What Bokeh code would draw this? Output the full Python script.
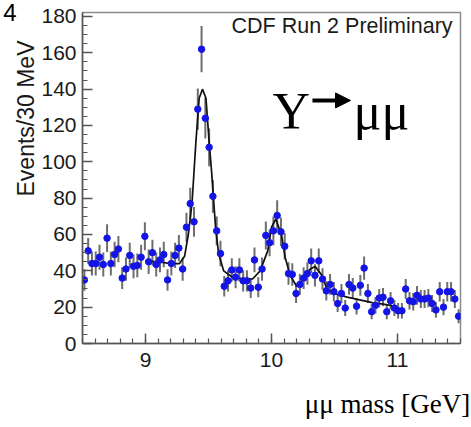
import numpy as np
from bokeh.plotting import figure
from bokeh.models import (Label, Arrow, NormalHead, Range1d, ColumnDataSource,
                          FixedTicker, Title, LinearAxis)
from bokeh.embed import file_html
from bokeh.resources import INLINE

# ---- data ----
bin_lo = 8.5
bin_width = 0.03
counts = [35, 51, 44, 44, 47.5, 43.5, 58, 44, 49, 52,
          36, 41, 48.5, 42.5, 43, 47.5, 59, 45, 50, 43.5,
          46, 49, 35, 44, 48.5, 52.5, 41, 64, 77, 67,
          129, 162, 124, 108, 81, 62, 49.5, 31.5, 34.5,
          40.5, 36.5, 40.5, 34.5, 34.5, 30.5, 46, 31, 41, 59.5,
          55.5, 62, 70.5, 61.5, 53.5, 38.5, 38, 27.5, 32.5, 36,
          38.5, 45.5, 37.5, 45.5, 35.5, 29, 32.5, 28.5, 22, 27.5,
          19.5, 32.5, 30.5, 20.5, 32, 41.5, 27.5, 17.5, 21, 25,
          25.5, 17.5, 23.5, 19.5, 18, 18, 30, 23.5, 23, 26.5,
          24.5, 24.5, 25, 22, 18.5, 28.5, 20, 28.5, 28.5, 24.5, 15]

fit_x = [9.00, 9.10, 9.20, 9.27, 9.31, 9.34, 9.37, 9.40, 9.426, 9.452, 9.48,
         9.505, 9.524, 9.556, 9.58, 9.62, 9.69, 9.78, 9.85, 9.91, 9.97,
         10.00, 10.034, 10.08, 10.108, 10.148, 10.20, 10.254, 10.307, 10.347, 10.40,
         10.44, 10.50, 10.60, 10.70, 10.80, 10.90, 10.98]
fit_y = [45.5, 45, 44, 44, 48, 60, 78, 111, 135, 140, 135,
         111, 95, 64, 49.5, 40, 36.5, 35.5, 35.5, 40, 51,
         64, 68.5, 59.5, 47.5, 37.5, 31.5, 35.5, 41, 42.4, 37.5,
         30, 27.5, 25.5, 24, 22.5, 21.5, 20.5]

x_ticks = [9, 10, 11]
y_ticks = [0, 20, 40, 60, 80, 100, 120, 140, 160, 180]

x_title = "μμ mass [GeV]"
y_title = "Events/30 MeV"
fig_number = "4"

# ---- derived ----
counts = np.array(counts, dtype=float)
mass = bin_lo + bin_width * (np.arange(len(counts)) + 0.5)
err = np.sqrt(counts)
src = ColumnDataSource(dict(x=mass, y=counts, lo=counts - err, hi=counts + err))

p = figure(width=471, height=427, output_backend="svg", toolbar_location=None,
           x_range=Range1d(8.5, 11.5), y_range=Range1d(0, 182.2),
           min_border_left=82, min_border_right=11, min_border_top=12, min_border_bottom=84)
p.background_fill_color = "white"
p.border_fill_color = "white"
p.grid.visible = False
p.outline_line_color = "#8a8a8a"
p.outline_line_width = 1.5

for ax in (p.xaxis[0], p.yaxis[0]):
    ax.axis_line_color = "#555555"
    ax.axis_line_width = 1.5
    ax.major_tick_line_color = "#555555"
    ax.minor_tick_line_color = "#555555"
    ax.major_tick_line_width = 1.5
    ax.minor_tick_line_width = 1.2
    ax.major_tick_in = 10
    ax.major_tick_out = 0
    ax.minor_tick_in = 5
    ax.minor_tick_out = 0
    ax.major_label_text_font = "Liberation Sans"
    ax.major_label_text_font_size = "21px"
    ax.major_label_text_color = "#1a1a1a"

p.xaxis[0].ticker = FixedTicker(ticks=x_ticks,
                                minor_ticks=[round(8.5 + 0.1 * i, 2) for i in range(31)])
p.yaxis[0].ticker = FixedTicker(ticks=y_ticks, minor_ticks=list(range(0, 185, 5)))
p.xaxis[0].major_label_standoff = 9
p.yaxis[0].major_label_standoff = 6

# error bars and points
p.segment(x0="x", y0="lo", x1="x", y1="hi", source=src, line_color="#6e6e6e", line_width=2)
p.line(fit_x, fit_y, line_color="#111111", line_width=1.7)
p.scatter(x="x", y="y", source=src, size=6.5, fill_color="#1414e6", line_color="#1414e6")

# texts inside the frame
p.add_layout(Label(x=11.437, y=175, text="CDF Run 2 Preliminary", text_align="right",
                   text_baseline="alphabetic", text_font="Liberation Sans",
                   text_font_size="21.5px", text_color="#1a1a1a"))
p.add_layout(Label(x=10.008, y=127.7, text="Υ", text_align="left",
                   text_baseline="alphabetic", text_font="Liberation Serif",
                   text_font_size="52px", text_color="black"))
p.add_layout(Arrow(x_start=10.325, y_start=133.8, x_end=10.627, y_end=133.8,
                   line_width=4, line_color="black",
                   end=NormalHead(size=15, fill_color="black", line_color="black")))
p.add_layout(Label(x=10.651, y=127.7, text="μμ", text_align="left",
                   text_baseline="alphabetic", text_font="Liberation Serif",
                   text_font_size="52px", text_color="black"))

# y title in a side panel, aligned towards the top
p.add_layout(Title(text=y_title, align="right", offset=28, standoff=0,
                   text_font="Liberation Sans", text_font_size="23px",
                   text_font_style="normal", text_color="#1a1a1a"), "left")

# figure number at the top-left corner (bare label axis, outermost left)
num_axis = LinearAxis(ticker=FixedTicker(ticks=[182.0], minor_ticks=[]),
                      major_label_overrides={182.0: fig_number})
num_axis.axis_line_color = None
num_axis.major_tick_line_color = None
num_axis.minor_tick_line_color = None
num_axis.major_tick_in = 0
num_axis.major_tick_out = 0
num_axis.major_label_standoff = -6
num_axis.major_label_text_font = "Liberation Sans"
num_axis.major_label_text_font_size = "24px"
num_axis.major_label_text_color = "black"
p.add_layout(num_axis, "left")

# x title at the bottom right (bare label axis below the main one)
xt_axis = LinearAxis(ticker=FixedTicker(ticks=[10.92], minor_ticks=[]),
                     major_label_overrides={10.92: x_title})
xt_axis.axis_line_color = None
xt_axis.major_tick_line_color = None
xt_axis.minor_tick_line_color = None
xt_axis.major_tick_in = 0
xt_axis.major_tick_out = 0
xt_axis.major_label_standoff = 19
xt_axis.major_label_text_font = "Liberation Serif"
xt_axis.major_label_text_font_size = "27px"
xt_axis.major_label_text_color = "black"
p.add_layout(xt_axis, "below")

open("out.html", "w").write(file_html(p, INLINE))
